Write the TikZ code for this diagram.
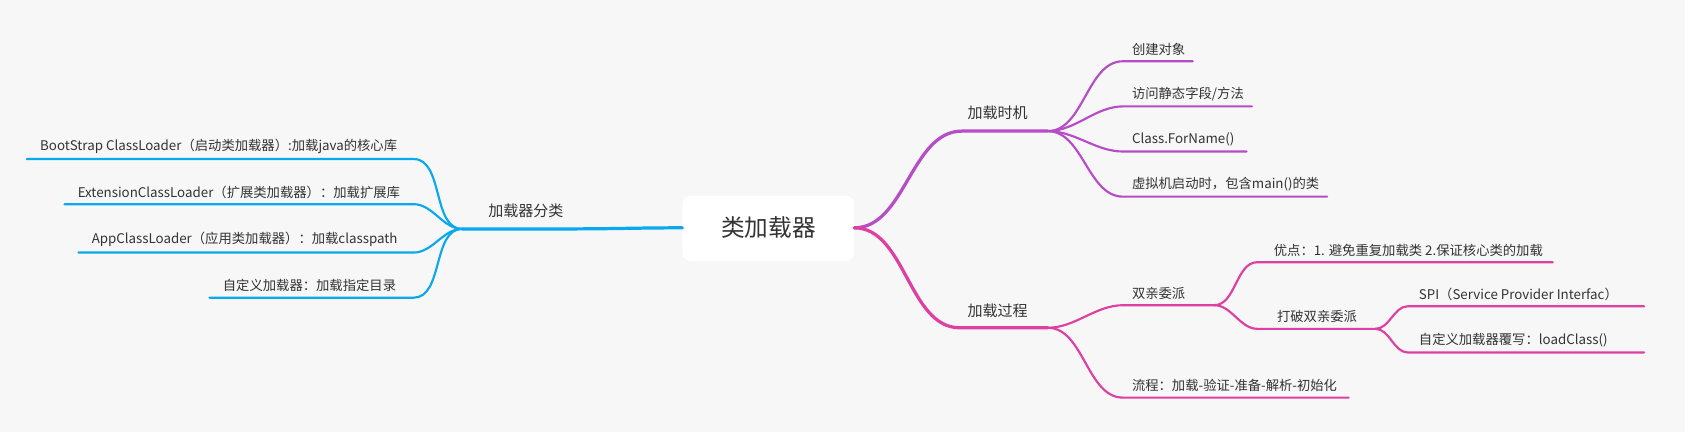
\documentclass[tikz,border=0pt]{standalone}
\usepackage{fontspec}
\setmainfont{Noto Sans CJK SC}
\definecolor{bg}{HTML}{F7F7F7}
\definecolor{cy}{HTML}{0AA8EE}
\definecolor{pu}{HTML}{B64CC6}
\definecolor{pk}{HTML}{DD3FA2}
\definecolor{tx}{HTML}{333333}
\tikzset{
  lbl/.style={font=\fontsize{6.2pt}{7pt}\selectfont, text=tx, inner sep=0pt, anchor=south west},
  br/.style={line width=1.5pt, line cap=round},
  lf/.style={line width=1pt, line cap=round},
  cv/.style={out=0,in=180,looseness=0.9},
  cvl/.style={out=180,in=0,looseness=0.9},
}
\begin{document}
\begin{tikzpicture}[x=0.5pt,y=-0.5pt]
\fill[bg] (0,0) rectangle (1568,402);
\useasboundingbox (0,0) rectangle (1568,402);
% center
\fill[white,rounded corners=4pt] (635,182) rectangle (795,243);
\node[font=\fontsize{11pt}{13pt}\selectfont,text=tx] (c) at (715,212) {类加载器};
\coordinate (cl) at (635,212);
\coordinate (cr) at (795,212);
% left
\coordinate (Ls) at (530,213); \coordinate (Le) at (430,213);
\draw[cy,br] (cl) to[out=180,in=0] (Ls) -- (Le);
\node[lbl,font=\fontsize{7pt}{8pt}\selectfont] (L) at (454,203) {加载器分类};
\foreach \n/\x/\y/\t in {l1/25/148/{BootStrap ClassLoader（启动类加载器）:加载java的核心库},
  l2/60/190/{ExtensionClassLoader（扩展类加载器）：加载扩展库},
  l3/73/235/{AppClassLoader（应用类加载器）：加载classpath},
  l4/195/277/{自定义加载器：加载指定目录}}{
  \coordinate (\n e) at (385,\y); \coordinate (\n s) at (\x,\y);
  \draw[cy,lf] (Le) to[cvl] (\n e) -- (\n s);
  \node[lbl] (\n) at (\x+12,\y-5) {\t};
}
% right top
\coordinate (Ts) at (895,122); \coordinate (Te) at (975,122);
\draw[pu,br] (cr) to[cv] (Ts) -- (Te);
\node[lbl,font=\fontsize{7pt}{8pt}\selectfont] (T) at (900,112) {加载时机};
\foreach \n/\x/\y/\t in {t1/1110/57/{创建对象},t2/1165/99/{访问静态字段/方法},
  t3/1160/141/{Class.ForName()},t4/1235/183/{虚拟机启动时，包含main()的类}}{
  \coordinate (\n s) at (1045,\y); \coordinate (\n e) at (\x,\y);
  \draw[pu,lf] (Te) to[cv] (\n s) -- (\n e);
  \node[lbl] (\n) at (1053,\y-5) {\t};
}
% right bottom
\coordinate (Bs) at (893,305); \coordinate (Be) at (975,305);
\draw[pk,br] (cr) to[cv] (Bs) -- (Be);
\node[lbl,font=\fontsize{7pt}{8pt}\selectfont] (B) at (900,296) {加载过程};
\coordinate (b1s) at (1045,284); \coordinate (b1e) at (1130,284);
\draw[pk,lf] (Be) to[cv] (b1s) -- (b1e);
\node[lbl] (b1) at (1053,279) {双亲委派};
\coordinate (b2s) at (1045,370); \coordinate (b2e) at (1255,370);
\draw[pk,lf] (Be) to[cv] (b2s) -- (b2e);
\node[lbl] (b2) at (1053,365) {流程：加载-验证-准备-解析-初始化};
\coordinate (b11s) at (1170,244); \coordinate (b11e) at (1445,244);
\draw[pk,lf] (b1e) to[cv] (b11s) -- (b11e);
\node[lbl] (b11) at (1185,239) {优点：1. 避免重复加载类 2.保证核心类的加载};
\coordinate (b12s) at (1170,306); \coordinate (b12e) at (1280,306);
\draw[pk,lf] (b1e) to[cv] (b12s) -- (b12e);
\node[lbl] (b12) at (1188,301) {打破双亲委派};
\coordinate (b121s) at (1310,285); \coordinate (b121e) at (1530,285);
\draw[pk,lf] (b12e) to[cv] (b121s) -- (b121e);
\node[lbl] (b121) at (1320,280) {SPI（Service Provider Interfac）};
\coordinate (b122s) at (1310,328); \coordinate (b122e) at (1530,328);
\draw[pk,lf] (b12e) to[cv] (b122s) -- (b122e);
\node[lbl] (b122) at (1320,323) {自定义加载器覆写：loadClass()};
\end{tikzpicture}
\end{document}
